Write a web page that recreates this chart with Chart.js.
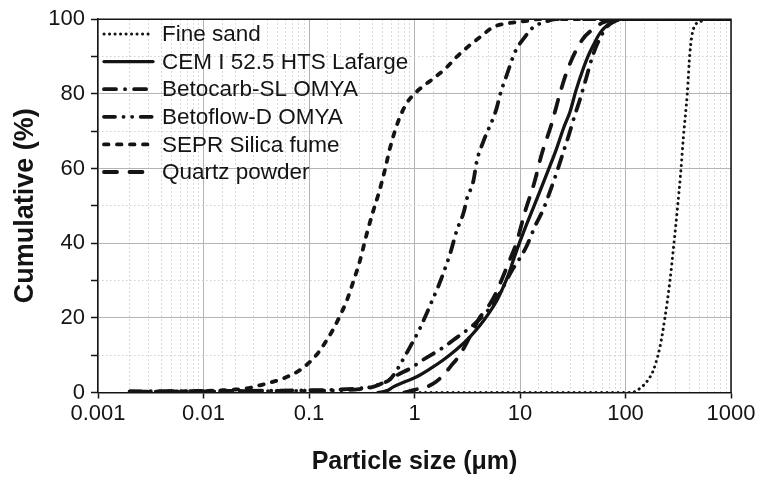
<!DOCTYPE html>
<html><head><meta charset="utf-8">
<script src="https://cdn.jsdelivr.net/npm/chart.js@4.4.0/dist/chart.umd.min.js"></script>
<style>html,body{margin:0;padding:0;background:#fff}#wrap{width:761px;height:480px}</style>
</head><body><div id="wrap"><canvas id="c" width="761" height="480"></canvas></div>
<script>
// ---- data (particle size in µm, cumulative %) ----
const seriesNames = ["Fine sand", "CEM I 52.5 HTS Lafarge", "Betocarb-SL OMYA", "Betoflow-D OMYA", "SEPR Silica fume", "Quartz powder"];

const fineSandSize = [1, 10, 100, 118, 137, 160, 184, 212, 237, 264, 288, 310, 334, 353, 385, 408, 440, 527, 600, 1000];
const fineSandCum  = [0, 0, 0, 0.1, 1.1, 3, 6, 12.2, 20.2, 30, 40, 49, 59, 68, 80, 91, 97.4, 99.5, 100, 100];

const cemSize = [0.45, 0.55, 0.63, 0.8, 1.05, 1.4, 1.87, 2.5, 3.36, 4.18, 5, 6, 7, 8, 8.65, 10, 11.6, 13.6, 15.5, 18.5, 22, 26, 29.8, 34, 39.8, 44, 49.5, 55, 61.7, 74, 90, 1000];
const cemCum  = [0, 0.5, 1.5, 2.8, 4.2, 6.3, 8.7, 11.5, 14.9, 18, 21, 24.5, 28.5, 32.5, 35.5, 40.5, 45.2, 50, 54, 59.5, 65, 71, 75.2, 81, 86.8, 90, 93, 95.5, 97.4, 99.2, 100, 100];

const betocarbSize = [0.002, 0.01, 0.05, 0.1, 0.2, 0.3, 0.406, 0.565, 0.7, 0.906, 1.21, 1.81, 2.51, 3.48, 4.03, 4.8, 5.8, 7.0, 8.3, 9.64, 11.6, 13.9, 16.6, 18.5, 22.3, 24.8, 28.7, 33.2, 37, 42.2, 48, 53.3, 66.4, 80, 100, 1000];
const betocarbCum  = [0.3, 0.4, 0.5, 0.6, 0.8, 1.1, 1.5, 3.3, 4.8, 6.4, 8.8, 11.8, 14.7, 17.7, 19.3, 21.5, 24.5, 28.5, 32.5, 35.3, 39.3, 44.6, 49, 52.5, 59, 63, 68.5, 74.4, 78.5, 84, 89.5, 93, 97.9, 99.5, 100, 100];

const betoflowSize = [0.002, 0.01, 0.05, 0.1, 0.2, 0.3, 0.4, 0.5, 0.586, 0.68, 0.81, 0.975, 1.11, 1.3, 1.51, 1.68, 2.17, 2.51, 2.95, 3.12, 3.61, 3.89, 4.49, 6.0, 6.46, 7.48, 8.97, 11.1, 13.4, 17, 22, 1000];
const betoflowCum  = [0.2, 0.3, 0.4, 0.5, 0.6, 0.9, 1.6, 2.5, 3.5, 6, 9.7, 13.8, 16.8, 21.1, 25.4, 28.4, 37.1, 43.3, 48.6, 51.7, 56.6, 61.9, 67.2, 76.1, 79.7, 85, 91.2, 95.2, 97.9, 99.2, 100, 100];

const silicaSize = [0.002, 0.005, 0.01, 0.015, 0.02, 0.0256, 0.035, 0.046, 0.06, 0.082, 0.102, 0.125, 0.147, 0.17, 0.197, 0.228, 0.265, 0.304, 0.352, 0.4, 0.454, 0.525, 0.586, 0.7, 0.84, 0.975, 1.2, 1.51, 2.0, 2.51, 3.2, 4.18, 5.58, 6.95, 9.3, 12, 15, 1000];
const silicaCum  = [0.2, 0.3, 0.4, 0.6, 0.8, 1.1, 2, 2.9, 4, 6, 8.2, 11, 14, 17, 20.6, 24.6, 30, 35.3, 42.4, 48, 53, 59.7, 65.5, 72.6, 77.4, 79.7, 82, 84.1, 87, 89.9, 92.6, 95.2, 97.9, 98.7, 99.2, 99.6, 100, 100];

const quartzSize = [0.8, 0.9, 1.1, 1.3, 1.6, 1.9, 2.2, 2.6, 2.95, 3.5, 4.1, 5, 6, 7, 8, 9.3, 11.1, 13.6, 16, 20, 23.9, 28.7, 38.5, 50, 60, 70, 80, 1000];
const quartzCum  = [0, 0.4, 1.0, 1.5, 2.9, 4.8, 7, 9.5, 12, 16, 19.8, 23, 27, 31.5, 35.5, 40.3, 48.2, 56, 63.7, 72.1, 80.1, 87, 94.3, 97.5, 99, 99.7, 100, 100];

const xDecadeTicks = [0.001, 0.01, 0.1, 1, 10, 100, 1000];
const yLabelTicks = [0, 20, 40, 60, 80, 100];

// ---- styles ----
const INK = '#141414';
const dashStyles = [
  {dash: [0.1, 5.4], width: 3},              // fine sand: dotted
  {dash: [], width: 3.3},                    // CEM: solid
  {dash: [12, 9, 0.1, 9], width: 3.8},       // Betocarb: dash-dot
  {dash: [11, 8.5, 0.1, 8.5, 0.1, 8.5], width: 3.8}, // Betoflow: dash-dot-dot
  {dash: [4.5, 8.5], width: 3.8},            // silica fume: short dash
  {dash: [13, 12.5], width: 3.8}             // quartz: long dash
];
const sizesList = [fineSandSize, cemSize, betocarbSize, betoflowSize, silicaSize, quartzSize];
const cumList = [fineSandCum, cemCum, betocarbCum, betoflowCum, silicaCum, quartzCum];

const datasets = seriesNames.map((name, i) => ({
  label: name,
  data: sizesList[i].map((s, k) => ({x: s, y: cumList[i][k]})),
  borderColor: INK,
  borderWidth: dashStyles[i].width,
  borderDash: dashStyles[i].dash,
  borderCapStyle: 'round',
  borderJoinStyle: 'round',
  pointRadius: 0,
  fill: false,
  cubicInterpolationMode: 'monotone'
}));

const isDecade = v => Math.abs(Math.log10(v) - Math.round(Math.log10(v))) < 1e-6;

const legendPlugin = {
  id: 'customLegend',
  afterDraw(chart) {
    const ctx = chart.ctx;
    ctx.save();
    const x0 = 104, x1 = 153, tx = 162, y0 = 34, dy = 27.6;
    ctx.font = '22.5px "Liberation Sans", Arial, sans-serif';
    ctx.textBaseline = 'middle';
    ctx.fillStyle = INK;
    seriesNames.forEach((name, i) => {
      const y = y0 + i * dy;
      ctx.beginPath();
      ctx.strokeStyle = INK;
      ctx.lineWidth = dashStyles[i].width;
      ctx.lineCap = 'round';
      ctx.setLineDash(dashStyles[i].dash);
      ctx.moveTo(x0, y); ctx.lineTo(x1, y);
      ctx.stroke();
      ctx.setLineDash([]);
      ctx.fillText(name, tx, y + 1);
    });
    // frame top & right
    const a = chart.chartArea;
    ctx.beginPath();
    ctx.lineWidth = 1.5;
    ctx.strokeStyle = INK;
    ctx.moveTo(a.left, a.top); ctx.lineTo(a.right, a.top); ctx.lineTo(a.right, a.bottom);
    ctx.stroke();
    ctx.restore();
  }
};

new Chart(document.getElementById('c'), {
  type: 'line',
  data: {datasets},
  options: {
    responsive: false,
    animation: false,
    devicePixelRatio: 1,
    layout: {padding: {top: 17, right: 30, bottom: 0, left: 0}},
    plugins: {legend: {display: false}, tooltip: {enabled: false}},
    scales: {
      x: {
        type: 'logarithmic', position: 'bottom', min: 0.001, max: 1000,
        afterFit: s => { s.height = 87.5; },
        ticks: {
          autoSkip: false, maxRotation: 0, padding: 2, color: INK,
          font: {family: '"Liberation Sans", Arial, sans-serif', size: 22},
          callback: (v) => xDecadeTicks.some(d => Math.abs(d - v) / d < 1e-6) ? String(v) : ''
        },
        grid: {
          color: c => (c.tick && isDecade(c.tick.value)) ? '#b4b4b4' : 'rgba(0,0,0,0)',
          tickColor: c => (c.tick && isDecade(c.tick.value)) ? INK : 'rgba(0,0,0,0)',
          tickLength: 6, lineWidth: 1, tickWidth: 1.5
        },
        border: {display: true, color: INK, width: 1.5},
        title: {display: true, text: 'Particle size (μm)', color: INK,
          font: {family: '"Liberation Sans", Arial, sans-serif', size: 25, weight: 'bold'},
          padding: {top: 0, bottom: 3}}
      },
      xMinor: {
        type: 'logarithmic', position: 'bottom', min: 0.001, max: 1000,
        afterFit: s => { s.height = 0; },
        ticks: {display: false, autoSkip: false},
        grid: {drawTicks: false,
          color: c => (c.tick && !isDecade(c.tick.value)) ? '#cfcfcf' : 'rgba(0,0,0,0)', lineWidth: 1},
        border: {display: false, dash: [1.5, 2.5]}
      },
      y: {
        type: 'linear', position: 'left', min: 0, max: 100,
        afterFit: s => { s.width = 98; },
        ticks: {
          stepSize: 10, padding: 6, color: INK,
          font: {family: '"Liberation Sans", Arial, sans-serif', size: 22},
          callback: v => yLabelTicks.includes(v) ? String(v) : ''
        },
        grid: {
          color: c => (c.tick && c.tick.value % 20 === 0) ? '#b4b4b4' : 'rgba(0,0,0,0)',
          tickColor: INK, tickLength: 7, lineWidth: 1, tickWidth: 1.5
        },
        border: {display: true, color: INK, width: 1.5},
        title: {display: true, text: 'Cumulative (%)', color: INK,
          font: {family: '"Liberation Sans", Arial, sans-serif', size: 27, weight: 'bold'},
          padding: {top: 9, bottom: 0}}
      },
      yMinor: {
        type: 'linear', position: 'left', min: 0, max: 100,
        afterFit: s => { s.width = 0; },
        ticks: {display: false, stepSize: 10},
        grid: {drawTicks: false,
          color: c => (c.tick && c.tick.value % 20 !== 0) ? '#cfcfcf' : 'rgba(0,0,0,0)', lineWidth: 1},
        border: {display: false, dash: [1.5, 2.5]}
      }
    }
  },
  plugins: [legendPlugin]
});
</script>
</body></html>
